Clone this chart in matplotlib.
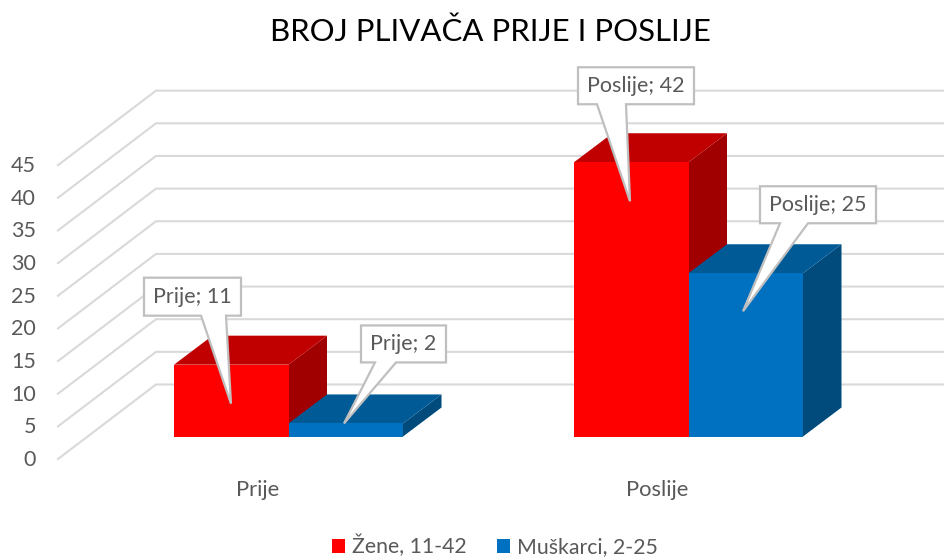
import matplotlib
matplotlib.use('Agg')
import matplotlib.pyplot as plt
from matplotlib.patches import Polygon, Patch

plt.rcParams['font.family'] = ['Lato', 'DejaVu Sans']

categories = ['Prije', 'Poslije']
zene = [11, 42]
muskarci = [2, 25]
series_names = ['Žene, 11-42', 'Muškarci, 2-25']
ticks = [0, 5, 10, 15, 20, 25, 30, 35, 40, 45]

# colours: front, top, side
red = ['#FF0000', '#C00000', '#A00000']
blue = ['#0070C0', '#005A96', '#004A7C']
grid_c = '#D9D9D9'
text_c = '#595959'

#=================================================================================#

# layout in pixels of the 944x559 picture
unit = 6.53
y0 = 459
y_base = 436.5
depth_x = 38.5
depth_y = 29
bar_w = 114.5
group_left = [174, 574]
cat_x = [257.5, 657.5]

def front_y(v):
    return y0 - v*unit

def bar_y(v):
    return y_base - v*unit

fig = plt.figure(figsize=(9.44, 5.59), dpi=100)
ax = fig.add_axes([0, 0, 1, 1])
ax.set_xlim(0, 944)
ax.set_ylim(559, 0)
ax.axis('off')

#=================================================================================#

for t in ticks:
    y = front_y(t)
    ax.plot([58, 156, 944], [y, y-74.5, y-74.5], color=grid_c, lw=1.5, zorder=1,
            solid_joinstyle='miter')
    ax.text(36, y+1, str(t), ha='right', va='center', fontsize=15.5, color=text_c)

def bar3d(left, v, cols):
    top = bar_y(v)
    r = left + bar_w
    ax.add_patch(Polygon([(r, y_base), (r+depth_x, y_base-depth_y),
                          (r+depth_x, top-depth_y), (r, top)], fc=cols[2], ec='none', zorder=2))
    ax.add_patch(Polygon([(left, top), (r, top), (r+depth_x, top-depth_y),
                          (left+depth_x, top-depth_y)], fc=cols[1], ec='none', zorder=2))
    ax.add_patch(Polygon([(left, y_base), (r, y_base), (r, top), (left, top)],
                         fc=cols[0], ec='none', zorder=2))

for i in range(len(categories)):
    bar3d(group_left[i], zene[i], red)
    bar3d(group_left[i]+bar_w, muskarci[i], blue)
    ax.text(cat_x[i], 490, categories[i], ha='center', va='center', fontsize=15.8, color=text_c)

#=================================================================================#

def callout(text, box, base, tip):
    x1, y1, x2, y2 = box
    pts = [(x1, y1), (x2, y1), (x2, y2), (base[1], y2), tip, (base[0], y2), (x1, y2)]
    ax.add_patch(Polygon(pts, closed=True, fc='white', ec='#BFBFBF', lw=1.6, zorder=3,
                         joinstyle='miter'))
    ax.text((x1+x2)/2, (y1+y2)/2, text, ha='center', va='center', fontsize=15.5,
            color=text_c, zorder=4)

# offsets of the box, wedge base and tip from the top left of the bar
callout_boxes = [(-30, -87, 67, -49), (72.5, -98, 157.5, -61), (4, -95, 120, -58), (71.5, -87, 187.5, -50)]
callout_bases = [(27, 52), (86.5, 107.5), (23, 52), (91.5, 119.5)]
callout_tips = [(57, 39), (55.5, 0), (56, 39), (54.5, 38)]

lefts = [group_left[0], group_left[0]+bar_w, group_left[1], group_left[1]+bar_w]
vals = [zene[0], muskarci[0], zene[1], muskarci[1]]
names = [categories[0], categories[0], categories[1], categories[1]]
for i in range(4):
    lx, ty = lefts[i], bar_y(vals[i])
    b = callout_boxes[i]
    callout('%s; %d' % (names[i], vals[i]),
            (lx+b[0], ty+b[1], lx+b[2], ty+b[3]),
            (lx+callout_bases[i][0], lx+callout_bases[i][1]),
            (lx+callout_tips[i][0], ty+callout_tips[i][1]))

#=================================================================================#

ax.text(490.5, 32, 'BROJ PLIVAČA PRIJE I POSLIJE', ha='center', va='center',
        fontsize=22.4, color='black')

handles = [Patch(fc=red[0], label=series_names[0]), Patch(fc=blue[0], label=series_names[1])]
ax.legend(handles=handles, loc='center', bbox_to_anchor=(495/944, 1-546/559), ncol=2,
          frameon=False, fontsize=15.3, labelcolor=text_c, handlelength=0.62, handleheight=0.62,
          handletextpad=0.35, columnspacing=1.4)

fig.savefig('out.png', dpi=100)
